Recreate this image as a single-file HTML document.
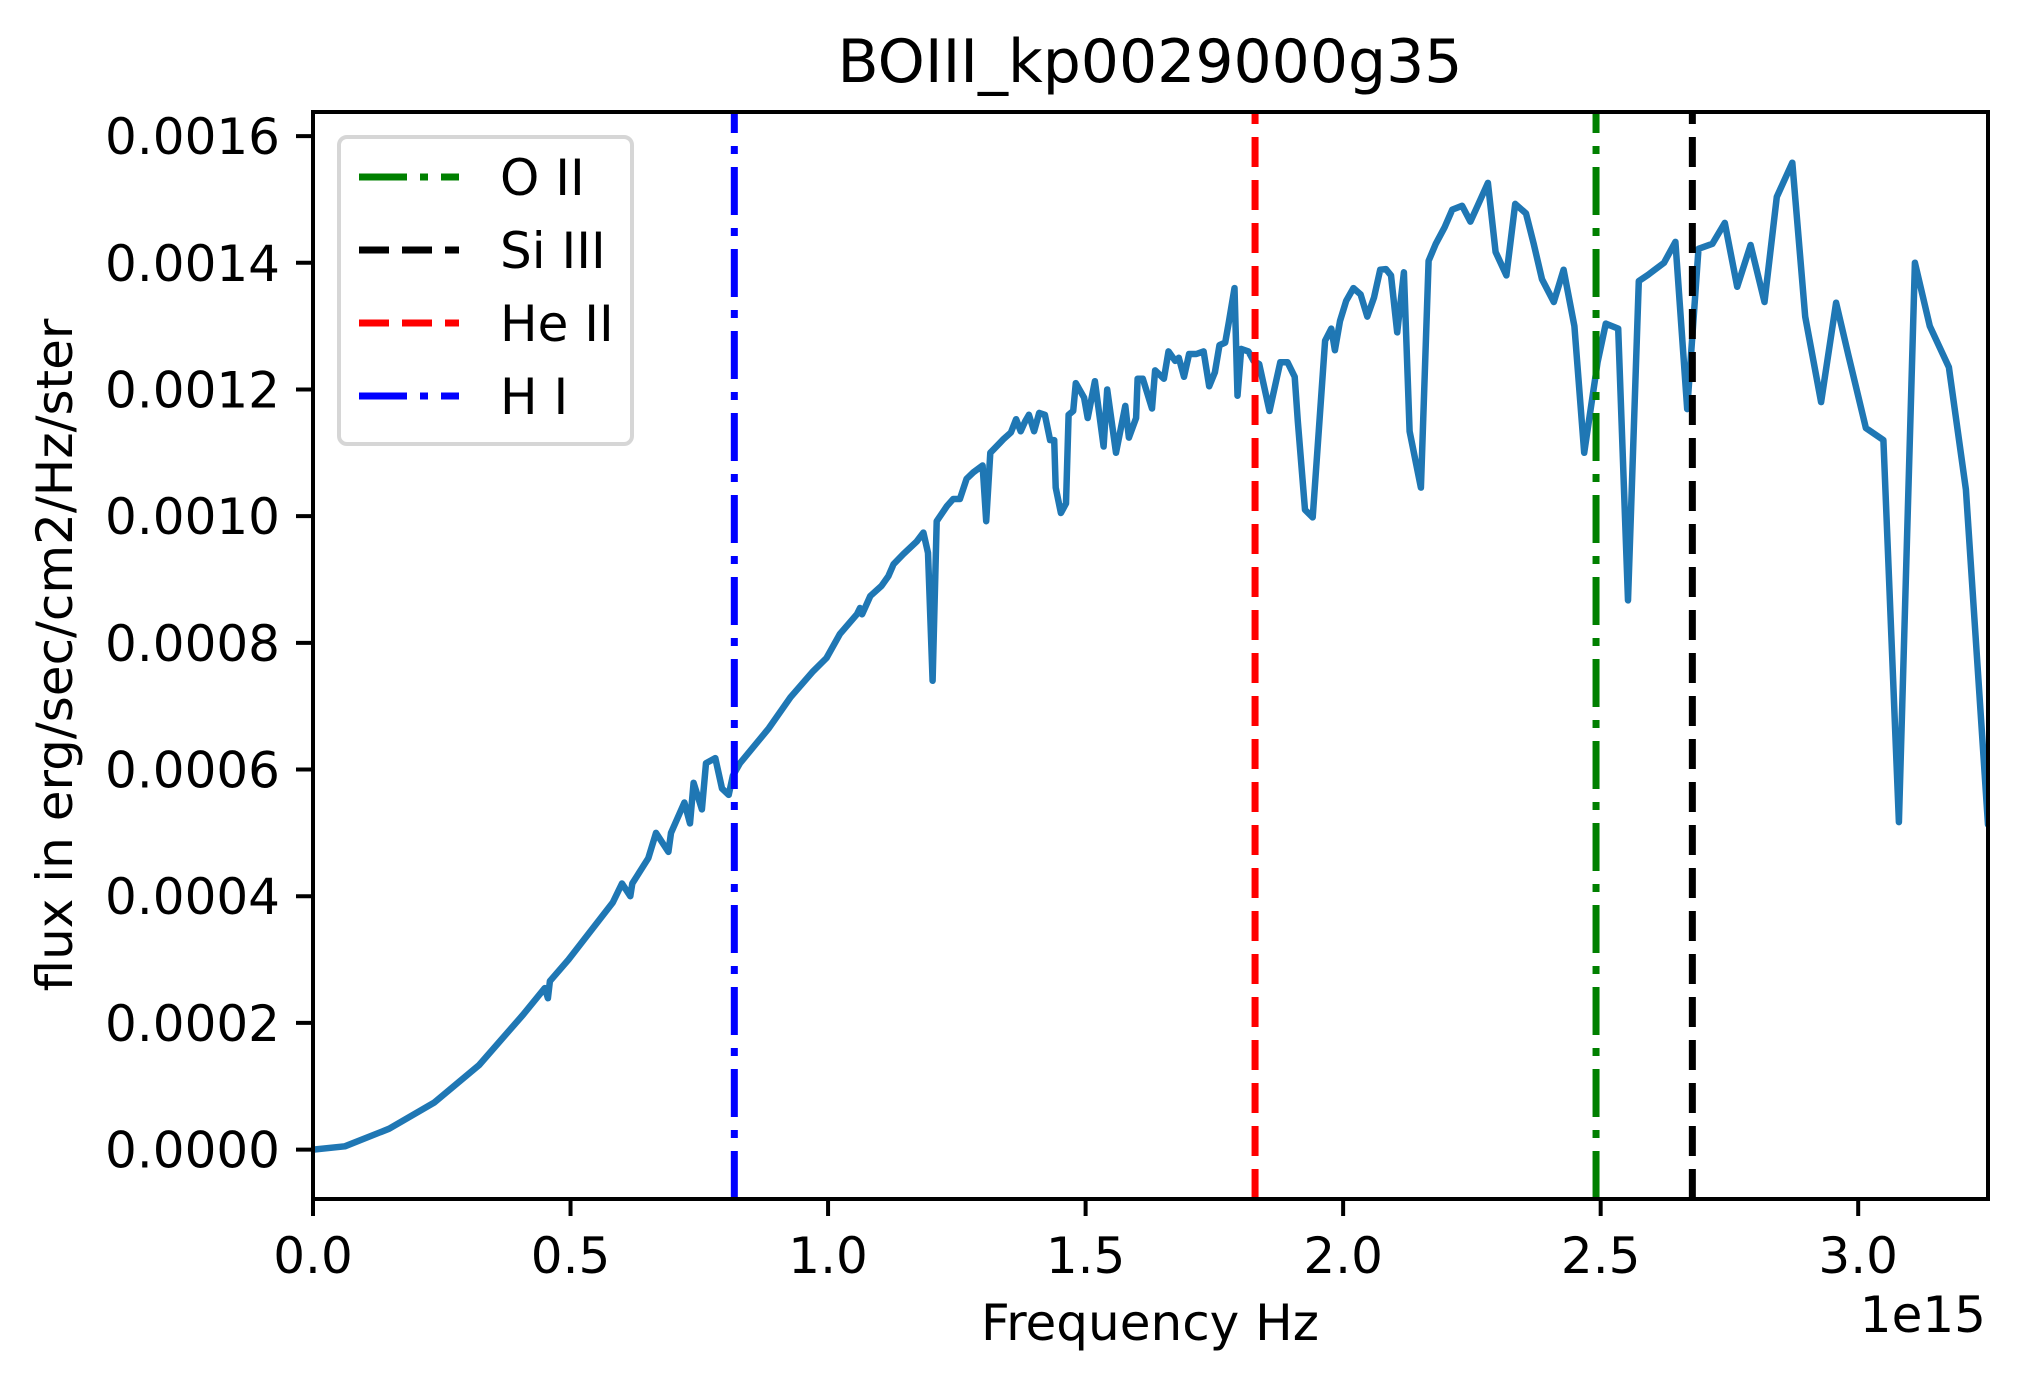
<!DOCTYPE html>
<html><head><meta charset="utf-8"><style>
html,body{margin:0;padding:0;background:#fff;}
svg{display:block;font-family:"DejaVu Sans","Liberation Sans",sans-serif;}
</style></head><body>
<svg id="chart" width="2023" height="1386" viewBox="0 0 2023 1386">
<rect width="2023" height="1386" fill="#fff"/>
<g id="plot"></g>
<g id="axes"></g>
<text x="1150" y="82" font-size="60" text-anchor="middle">BOIII_kp0029000g35</text>
<text x="1150" y="1340" font-size="50" text-anchor="middle">Frequency Hz</text>
<text x="1986" y="1332" font-size="50" text-anchor="end">1e15</text>
<text transform="translate(72,655) rotate(-90)" font-size="50" text-anchor="middle">flux in erg/sec/cm2/Hz/ster</text>
<g id="legend">
<rect x="339" y="137" width="293" height="307" rx="8" fill="#fff" fill-opacity="0.8" stroke="#d6d6d6" stroke-width="4"/>
</g>
</svg>
<script>
const freq = [0,0.062,0.148,0.235,0.322,0.408,0.45,0.456,0.46,0.496,0.582,0.6,0.616,0.62,0.651,0.666,0.69,0.695,0.721,0.732,0.739,0.755,0.763,0.781,0.794,0.807,0.815,0.829,0.885,0.927,0.971,0.997,1.023,1.056,1.062,1.066,1.082,1.104,1.117,1.127,1.146,1.172,1.185,1.194,1.203,1.211,1.231,1.243,1.256,1.269,1.282,1.3,1.307,1.315,1.334,1.341,1.355,1.365,1.374,1.383,1.39,1.40,1.41,1.421,1.431,1.439,1.442,1.452,1.462,1.467,1.476,1.481,1.497,1.504,1.518,1.535,1.542,1.559,1.577,1.584,1.598,1.601,1.611,1.629,1.635,1.652,1.661,1.674,1.681,1.691,1.701,1.715,1.729,1.74,1.751,1.76,1.771,1.778,1.789,1.795,1.802,1.816,1.826,1.837,1.857,1.878,1.892,1.906,1.912,1.926,1.941,1.965,1.977,1.984,1.994,2.006,2.02,2.034,2.047,2.06,2.072,2.083,2.093,2.105,2.118,2.129,2.151,2.166,2.18,2.197,2.212,2.231,2.247,2.261,2.281,2.296,2.317,2.334,2.355,2.37,2.386,2.409,2.428,2.449,2.468,2.494,2.51,2.534,2.553,2.574,2.592,2.623,2.645,2.668,2.69,2.717,2.741,2.765,2.791,2.818,2.842,2.872,2.897,2.928,2.957,2.981,3.015,3.049,3.079,3.11,3.139,3.176,3.209,3.252];
const flux = [0,0.0000052,0.000033,0.000074,0.000133,0.000213,0.000255,0.000239,0.000266,0.0003,0.00039,0.00042,0.0004,0.00042,0.00046,0.0005,0.00047,0.0005,0.000548,0.000515,0.000579,0.000537,0.00061,0.000618,0.00057,0.00056,0.00059,0.00061,0.000665,0.000714,0.000755,0.000776,0.000814,0.000845,0.000855,0.000845,0.000874,0.00089,0.000905,0.000924,0.00094,0.00096,0.000974,0.000942,0.00074,0.000992,0.001016,0.001027,0.001027,0.001059,0.001069,0.00108,0.000992,0.0011,0.001116,0.001122,0.001132,0.001153,0.001134,0.00115,0.00116,0.001134,0.001163,0.00116,0.00112,0.00112,0.001045,0.001005,0.00102,0.00116,0.001166,0.00121,0.001187,0.001155,0.001213,0.00111,0.0012,0.0011,0.001174,0.001124,0.001155,0.001217,0.001217,0.00117,0.00123,0.001217,0.00126,0.001245,0.00125,0.00122,0.001256,0.001256,0.00126,0.001205,0.001227,0.00127,0.001274,0.001306,0.00136,0.00119,0.001264,0.00126,0.001245,0.00124,0.001166,0.001243,0.001243,0.00122,0.00115,0.00101,0.000998,0.001277,0.001296,0.001262,0.001308,0.00134,0.00136,0.00135,0.001315,0.001345,0.001389,0.00139,0.00138,0.00129,0.001385,0.001134,0.001045,0.001403,0.00143,0.001456,0.001484,0.00149,0.001465,0.00149,0.001526,0.001417,0.00138,0.001493,0.001478,0.00143,0.001374,0.001338,0.001389,0.0013,0.0011,0.001243,0.001304,0.001296,0.000867,0.001371,0.001381,0.0014,0.001433,0.001169,0.001422,0.00143,0.001463,0.001362,0.001428,0.001338,0.001504,0.001558,0.001315,0.00118,0.001337,0.001254,0.001139,0.00112,0.000517,0.0014,0.0013,0.001235,0.001042,0.000513];
const lineNames = ["O II","Si III","He II","H I"];
const lineFreqs = [2.491,2.678,1.829,0.818];
const xTicks = [0,0.5,1.0,1.5,2.0,2.5,3.0];
const xTickLabels = ["0.0","0.5","1.0","1.5","2.0","2.5","3.0"];
const yTicks = [0,0.0002,0.0004,0.0006,0.0008,0.0010,0.0012,0.0014,0.0016];
const yTickLabels = ["0.0000","0.0002","0.0004","0.0006","0.0008","0.0010","0.0012","0.0014","0.0016"];

const L=313,R=1988,T=112,B=1199;
const xMin=0,xMax=3.252,yMin=-0.000078,yMax=0.001638;
const xs=v=>L+(v-xMin)/(xMax-xMin)*(R-L);
const ys=v=>B-(v-yMin)/(yMax-yMin)*(B-T);
const NS="http://www.w3.org/2000/svg";
const styles=[{c:"green",d:"48 13 8 13"},{c:"black",d:"30 13"},{c:"red",d:"30 13"},{c:"blue",d:"48 13 8 13"}];
const plot=document.getElementById('plot'),axes=document.getElementById('axes'),leg=document.getElementById('legend');
function mk(t,a,p){const e=document.createElementNS(NS,t);for(const k in a)e.setAttribute(k,a[k]);p.appendChild(e);return e;}

const clip=mk('clipPath',{id:'clp'},plot);mk('rect',{x:L,y:T,width:R-L,height:B-T},clip);
let d="";for(let i=0;i<freq.length;i++)d+=(i?"L":"M")+xs(freq[i]).toFixed(1)+","+ys(flux[i]).toFixed(1);
const sp=mk('path',{d:d,fill:'none',stroke:'#1f77b4','stroke-width':6.5,'stroke-linejoin':'round','stroke-linecap':'round','clip-path':'url(#clp)'},plot);


lineFreqs.forEach((f,i)=>{
 const ln=mk('line',{x1:xs(f),x2:xs(f),y1:B,y2:T,stroke:styles[i].c,'stroke-width':7,'stroke-dasharray':styles[i].d},plot);
 
 
 const ly=177+i*73;
 const lg=mk('line',{x1:359,x2:459,y1:ly,y2:ly,stroke:styles[i].c,'stroke-width':7,'stroke-dasharray':styles[i].d},leg);
 
 
 const tx=mk('text',{x:500,y:ly+18,'font-size':50},leg);tx.textContent=lineNames[i];
 
 
});
const fr=mk('rect',{x:L,y:T,width:R-L,height:B-T,fill:'none',stroke:'#000','stroke-width':4},axes);


xTicks.forEach((v,i)=>{
 const x=xs(v);
 const tk=mk('line',{x1:x,x2:x,y1:B,y2:B+17,stroke:'#000','stroke-width':4},axes);
 
 
 const t=mk('text',{x:x,y:1273,'font-size':50,'text-anchor':'middle'},axes);t.textContent=xTickLabels[i];
 
 
});
yTicks.forEach((v,i)=>{
 const y=ys(v);
 const tk=mk('line',{x1:L-17,x2:L,y1:y,y2:y,stroke:'#000','stroke-width':4},axes);
 
 
 const t=mk('text',{x:280,y:y+18,'font-size':50,'text-anchor':'end'},axes);t.textContent=yTickLabels[i];
 
 
});
</script>
</body></html>
